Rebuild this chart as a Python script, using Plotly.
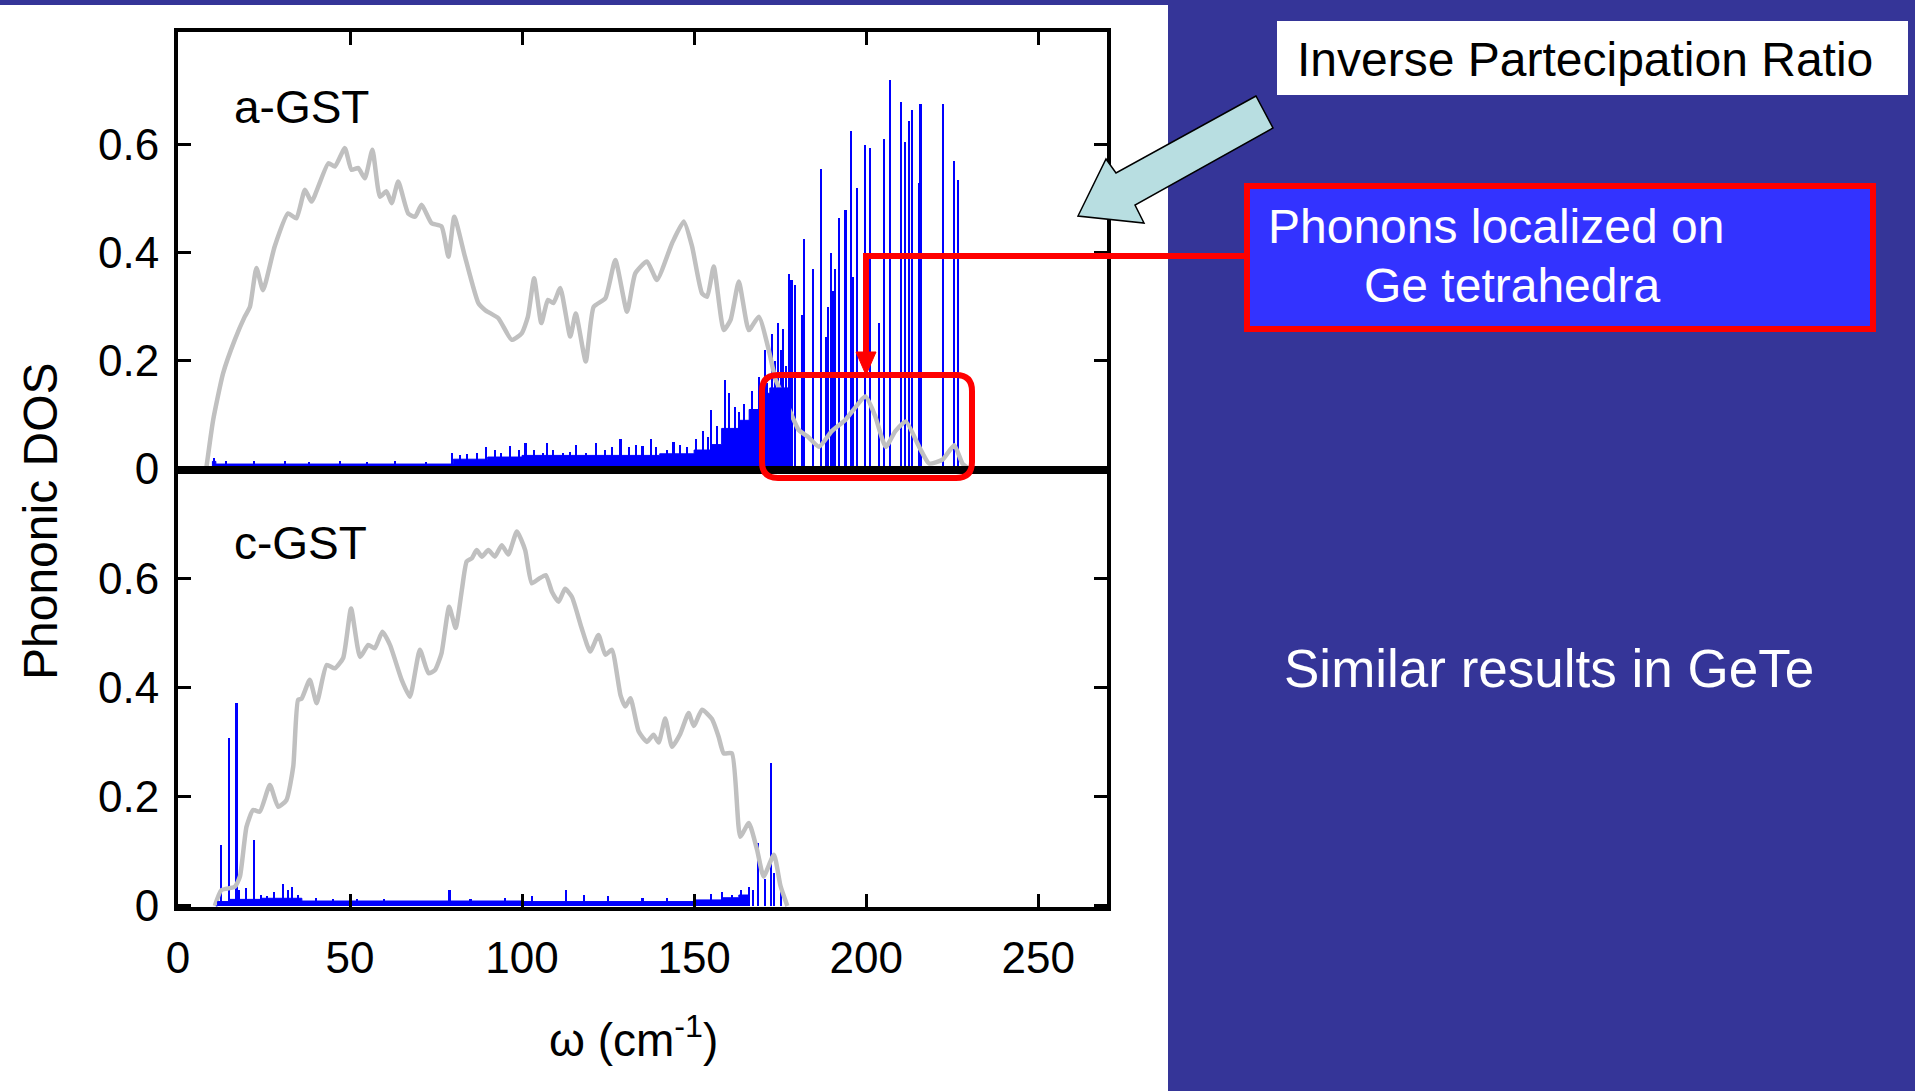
import plotly.graph_objects as go

W, H = 1915, 1091

# ---------------- data ----------------
# a-GST phonon DOS (grey curve)
a_dos_w = [8.2, 10.2, 13.1, 16.5, 19.4, 20.9, 22.8, 24.7, 28.1, 32.0, 34.4, 36.9, 38.8, 43.7, 45.6, 48.5,
           50.4, 52.4, 54.3, 56.5, 58.7, 60.6, 62.1, 64.0, 66.9, 68.9, 70.8, 73.7, 76.6, 78.6, 80.3, 83.4,
           87.3, 89.3, 93.1, 97.0, 99.9, 101.7, 103.5, 105.6, 107.5, 109.1, 111.1, 114.0, 115.6, 118.5,
           120.8, 124.2, 127.1, 130.5, 132.9, 136.3, 139.2, 143.6, 147.0, 149.4, 152.3, 153.8, 155.7,
           158.6, 160.6, 163.0, 165.9, 168.8, 171.7, 173.7, 177.0, 180.4, 183.0, 186.3, 190.0, 194.0,
           199.8, 202.5, 205.7, 208.5, 211.5, 215.4, 218.3, 222.2, 225.6, 228.0, 230.0]
a_dos_v = [0.0, 0.09, 0.177, 0.239, 0.282, 0.30, 0.372, 0.331, 0.412, 0.473, 0.464, 0.517, 0.495, 0.566, 0.560, 0.594,
           0.554, 0.557, 0.538, 0.591, 0.504, 0.514, 0.492, 0.532, 0.473, 0.467, 0.489, 0.455, 0.449, 0.393, 0.467, 0.393,
           0.307, 0.294, 0.279, 0.239, 0.251, 0.282, 0.353, 0.27, 0.313, 0.307, 0.335, 0.245, 0.288, 0.199,
           0.30, 0.316, 0.387, 0.291, 0.362, 0.384, 0.35, 0.418, 0.458, 0.412, 0.325, 0.319, 0.375,
           0.257, 0.276, 0.347, 0.257, 0.282, 0.22, 0.165, 0.12, 0.072, 0.06, 0.041, 0.07, 0.091,
           0.134, 0.10, 0.041, 0.07, 0.088, 0.041, 0.01, 0.017, 0.044, 0.01, 0.0]

# a-GST inverse participation ratio: low background level (step) + sticks
a_fill_w = [9.5, 10.0, 11.0, 80.0, 90.0, 100.0, 140.0, 150.0, 155.0, 158.0, 163.0, 166.0, 169.0, 172.0, 178.0]
a_fill_v = [0.0, 0.014, 0.009, 0.018, 0.022, 0.025, 0.028, 0.035, 0.045, 0.075, 0.09, 0.11, 0.14, 0.15, 0.0]

a_ipr_w = [10.5, 14, 22, 31, 38, 47, 55, 63, 72, 79.5, 82, 84, 87, 89.5, 92, 94, 96.5, 99, 101, 103.5,
           106, 107.2, 109, 112, 114, 115.7, 118.5, 121.5, 124, 126, 128.6, 131, 133, 135, 137.4, 139,
           142, 144, 146, 148, 150.5, 152.5, 154, 155, 156.7, 158.9, 160.2, 161.8, 163.1, 164.5, 166.7,
           167.8, 168.8, 169.6, 170.5, 171.3, 172.5, 173.4, 174.4, 175.2, 175.8, 176.6, 177.5, 178.3,
           179.4, 181.4, 182.0, 184.5, 187.0, 188.4, 188.9, 189.7, 190.4, 191.0, 192.2, 194.0, 195.5,
           196.1, 197.4, 199.8, 201.2, 203.7, 205.1, 206.9, 210.0, 211.3, 212.5, 213.2, 215.3, 215.8,
           222.3, 225.5, 226.7]
a_ipr_v = [0.02, 0.015, 0.014, 0.014, 0.013, 0.014, 0.013, 0.014, 0.013, 0.03, 0.025, 0.028, 0.03, 0.04, 0.035, 0.03, 0.042, 0.035, 0.048, 0.035,
           0.03, 0.048, 0.035, 0.03, 0.032, 0.045, 0.03, 0.048, 0.035, 0.04, 0.055, 0.04, 0.045, 0.042, 0.055, 0.04,
           0.035, 0.05, 0.045, 0.04, 0.055, 0.07, 0.06, 0.11, 0.08, 0.165, 0.14, 0.115, 0.105, 0.12, 0.145,
           0.10, 0.17, 0.12, 0.22, 0.16, 0.25, 0.20, 0.27, 0.22, 0.26, 0.19, 0.36, 0.35,
           0.34, 0.285, 0.425, 0.37, 0.555, 0.245, 0.30, 0.40, 0.33, 0.37, 0.465, 0.48, 0.625,
           0.355, 0.52, 0.60, 0.595, 0.27, 0.61, 0.72, 0.68, 0.605, 0.645, 0.665, 0.53, 0.675,
           0.675, 0.57, 0.535]

# c-GST phonon DOS (grey curve)
c_dos_w = [10.7, 12.6, 16.5, 18.0, 19.9, 21.8, 23.8, 26.7, 29.1, 31.5, 33.5, 34.9, 35.9, 38.3, 40.3, 43.2,
           45.6, 48.0, 50.3, 52.9, 55.3, 57.2, 59.4, 61.6, 65.0, 67.4, 70.3, 72.8, 74.7, 76.6, 78.8, 80.7,
           82.5, 83.9, 85.4, 86.8, 88.3, 90.2, 92.1, 94.1, 96.0, 98.5, 100.9, 102.8, 104.8, 106.9, 108.7,
           110.6, 112.5, 114.5, 117.3, 119.8, 122.2, 124.2, 126.1, 128.6, 130.0, 131.5, 133.9, 136.3,
           138.2, 139.7, 141.6, 143.6, 146.0, 148.4, 149.9, 152.3, 155.2, 157.1, 158.6, 161.0, 163.4,
           165.9, 168.3, 170.2, 173.2, 175.1, 177.1]
c_dos_v = [0.0, 0.029, 0.035, 0.054, 0.145, 0.176, 0.173, 0.222, 0.182, 0.194, 0.256, 0.378, 0.38, 0.415, 0.372, 0.442,
           0.436, 0.455, 0.546, 0.457, 0.479, 0.473, 0.503, 0.479, 0.415, 0.384, 0.47, 0.427, 0.433, 0.464, 0.549, 0.51,
           0.58, 0.632, 0.638, 0.653, 0.641, 0.653, 0.641, 0.662, 0.645, 0.687, 0.653, 0.592, 0.60, 0.607, 0.576,
           0.558, 0.582, 0.567, 0.51, 0.467, 0.497, 0.461, 0.47, 0.387, 0.366, 0.381, 0.32, 0.301,
           0.314, 0.30, 0.344, 0.292, 0.316, 0.354, 0.33, 0.36, 0.343, 0.311, 0.28, 0.28, 0.127,
           0.152, 0.103, 0.054, 0.094, 0.037, 0.0]

# c-GST inverse participation ratio
c_fill_w = [11.0, 11.5, 15.0, 24.0, 36.0, 100.0, 150.0, 158.0, 163.0, 166.0]
c_fill_v = [0.0, 0.008, 0.012, 0.014, 0.009, 0.008, 0.011, 0.015, 0.02, 0.0]

c_ipr_w = [12.4, 14.8, 17.0, 17.8, 19.8, 22.1, 24.0, 26.0, 28.0, 30.6, 32.0, 33.0, 35.0, 40.0, 45.0, 52.0,
           60.0, 78.9, 85.0, 95.0, 103.0, 112.8, 118.0, 125.0, 135.0, 142.0, 150.0, 155.0, 158.0, 161.0,
           163.5, 165.9, 167.0, 168.5, 170.5, 172.4, 173.2, 175.2]
c_ipr_v = [0.112, 0.308, 0.372, 0.03, 0.033, 0.121, 0.02, 0.018, 0.025, 0.04, 0.03, 0.035, 0.02, 0.015, 0.012, 0.012,
           0.012, 0.03, 0.013, 0.015, 0.018, 0.03, 0.02, 0.018, 0.015, 0.015, 0.018, 0.022, 0.025, 0.02,
           0.03, 0.035, 0.03, 0.115, 0.05, 0.262, 0.06, 0.04]

x_ticks = [0, 50, 100, 150, 200, 250]
y_ticks = [0, 0.2, 0.4, 0.6]
y_tick_text = ["0", "0.2", "0.4", "0.6"]

# ---------------- helpers ----------------
def px(x):
    return x / W

def py(y):
    return 1 - y / H

FONT = "Liberation Sans, Arial, Helvetica, sans-serif"
GREY = "#C0C0C0"
BLUE = "#0000FF"
RED = "#FF0000"
SLIDE_BLUE = "#353598"

fig = go.Figure()

for (dw, dv, fw, fv, iw, iv, xa, ya) in [
    (a_dos_w, a_dos_v, a_fill_w, a_fill_v, a_ipr_w, a_ipr_v, "x", "y"),
    (c_dos_w, c_dos_v, c_fill_w, c_fill_v, c_ipr_w, c_ipr_v, "x2", "y2"),
]:
    fig.add_trace(go.Scatter(x=dw, y=dv, mode="lines",
                             line=dict(color=GREY, width=4.5, shape="spline", smoothing=0.5),
                             xaxis=xa, yaxis=ya, showlegend=False, hoverinfo="skip"))
    fig.add_trace(go.Scatter(x=fw, y=fv, mode="lines", line=dict(color=BLUE, width=1, shape="hv"),
                             fill="tozeroy", fillcolor=BLUE, xaxis=xa, yaxis=ya,
                             showlegend=False, hoverinfo="skip"))
    fig.add_trace(go.Bar(x=iw, y=iv, width=[0.6] * len(iw), marker=dict(color=BLUE, line=dict(width=0)),
                         xaxis=xa, yaxis=ya, showlegend=False, hoverinfo="skip"))

xdom = [px(178), px(1107)]
axis_common = dict(showgrid=False, zeroline=False, linecolor="black", linewidth=4, automargin=False,
                   ticks="inside", ticklen=13, tickwidth=3, tickcolor="black",
                   tickfont=dict(family=FONT, size=44, color="black"))

fig.update_layout(
    width=W, height=H,
    autosize=False,
    margin=dict(l=0, r=0, t=0, b=0, pad=0, autoexpand=False),
    paper_bgcolor=SLIDE_BLUE,
    plot_bgcolor="white",
    bargap=0,
    xaxis=dict(domain=xdom, range=[0, 270], anchor="y", side="top", tickvals=x_ticks,
               showticklabels=False, mirror=True, **axis_common),
    yaxis=dict(domain=[py(470), py(32)], range=[-0.002, 0.809], anchor="x", tickvals=y_ticks,
               ticktext=y_tick_text, mirror="ticks", ticklabelstandoff=6, **axis_common),
    xaxis2=dict(domain=xdom, range=[0, 270], anchor="y2", side="bottom", tickvals=x_ticks,
                mirror=True, ticklabelstandoff=9, **axis_common),
    yaxis2=dict(domain=[py(907), py(470)], range=[-0.002, 0.80], anchor="x2", tickvals=y_ticks,
                ticktext=y_tick_text, mirror="ticks", ticklabelstandoff=6, **axis_common),
)

# ---------------- shapes ----------------
shapes = []
# white slide area on the left
shapes.append(dict(type="rect", xref="paper", yref="paper", x0=0, x1=px(1168), y0=0, y1=py(5),
                   fillcolor="white", line=dict(width=0), layer="below"))
# white label box
shapes.append(dict(type="rect", xref="paper", yref="paper", x0=px(1277), x1=px(1908), y0=py(95), y1=py(21),
                   fillcolor="white", line=dict(width=0), layer="above"))
# light-blue block arrow
arrow_pts = [(1256, 96), (1116, 173), (1106, 159), (1078, 216), (1144, 223), (1135, 205), (1273, 128)]
path = "M " + " L ".join(f"{px(x):.5f},{py(y):.5f}" for x, y in arrow_pts) + " Z"
shapes.append(dict(type="path", xref="paper", yref="paper", path=path, fillcolor="#B8DEE1",
                   line=dict(color="black", width=1.5), layer="above"))
# red connector line + arrow head
shapes.append(dict(type="line", xref="paper", yref="paper", x0=px(866), x1=px(1247), y0=py(256), y1=py(256),
                   line=dict(color=RED, width=6), layer="above"))
shapes.append(dict(type="line", xref="paper", yref="paper", x0=px(866), x1=px(866), y0=py(253), y1=py(356),
                   line=dict(color=RED, width=6), layer="above"))
head = [(856, 352), (876, 352), (866, 375)]
shapes.append(dict(type="path", xref="paper", yref="paper",
                   path="M " + " L ".join(f"{px(x):.5f},{py(y):.5f}" for x, y in head) + " Z",
                   fillcolor=RED, line=dict(color=RED, width=1), layer="above"))
# red rounded rectangle
x0, x1, y0, y1, r = 762, 972, 375, 478, 16
rr = (f"M {px(x0 + r):.5f},{py(y0):.5f} L {px(x1 - r):.5f},{py(y0):.5f} "
      f"Q {px(x1):.5f},{py(y0):.5f} {px(x1):.5f},{py(y0 + r):.5f} "
      f"L {px(x1):.5f},{py(y1 - r):.5f} Q {px(x1):.5f},{py(y1):.5f} {px(x1 - r):.5f},{py(y1):.5f} "
      f"L {px(x0 + r):.5f},{py(y1):.5f} Q {px(x0):.5f},{py(y1):.5f} {px(x0):.5f},{py(y1 - r):.5f} "
      f"L {px(x0):.5f},{py(y0 + r):.5f} Q {px(x0):.5f},{py(y0):.5f} {px(x0 + r):.5f},{py(y0):.5f} Z")
shapes.append(dict(type="path", xref="paper", yref="paper", path=rr,
                   line=dict(color=RED, width=6), layer="above"))
# blue text box
shapes.append(dict(type="rect", xref="paper", yref="paper", x0=px(1247), x1=px(1873), y0=py(329), y1=py(186),
                   fillcolor="#3333FF", line=dict(color=RED, width=6), layer="above"))
fig.update_layout(shapes=shapes)

# ---------------- texts ----------------
def ann(text, x, y, size, color="black", xanchor="left", angle=0):
    return dict(text=text, x=px(x), y=py(y), xref="paper", yref="paper", showarrow=False,
                xanchor=xanchor, yanchor="middle", textangle=angle,
                font=dict(family=FONT, size=size, color=color))

fig.update_layout(annotations=[
    ann("a-GST", 232, 107, 46),
    ann("c-GST", 232, 543, 46),
    ann("Phononic DOS", 40, 521, 48, xanchor="center", angle=-90),
    ann("ω (cm<sup>-1</sup>)", 633, 1037, 46, xanchor="center"),
    ann("Inverse Partecipation Ratio", 1295, 59, 48),
    ann("Phonons localized on", 1266, 227, 48, color="white"),
    ann("Ge tetrahedra", 1362, 285, 48, color="white"),
    ann("Similar results in GeTe", 1549, 668, 53, color="white", xanchor="center"),
])

fig.write_html(
    "out.html",
    config={"displayModeBar": False},
    post_script=("document.body.style.margin='0';document.body.style.padding='0';"
                 "document.body.style.background='" + SLIDE_BLUE + "';"
                 "document.body.style.overflow='hidden';"),
)
